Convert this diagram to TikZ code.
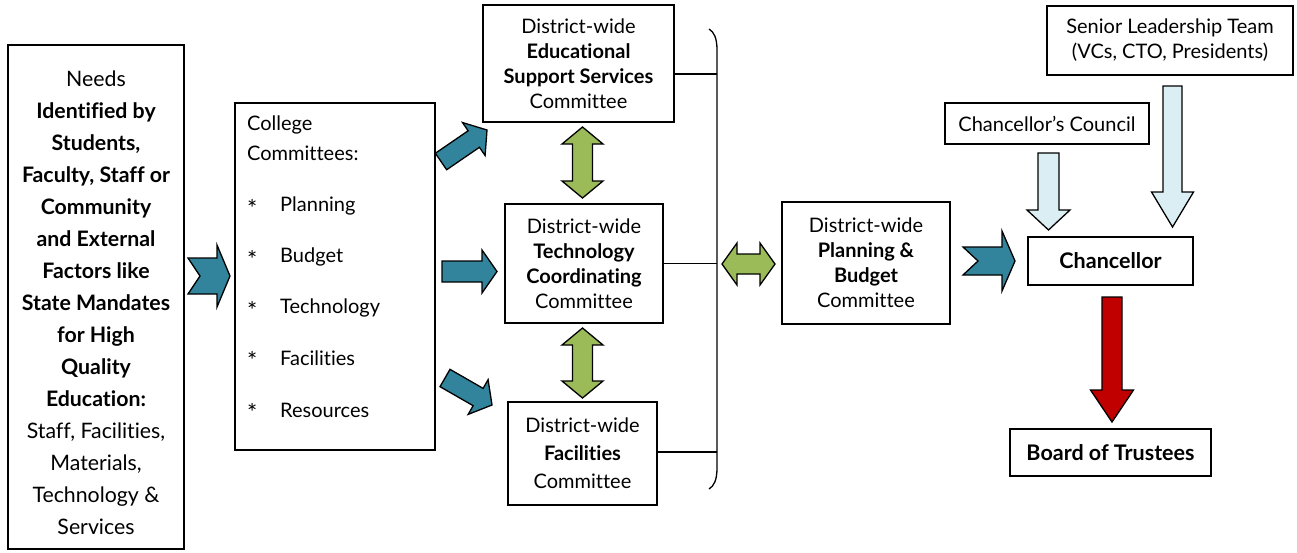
\documentclass[tikz,border=0pt]{standalone}
\usepackage{fontspec}
\setmainfont{Lato}[Ligatures={NoCommon}]
\usetikzlibrary{calc}
\definecolor{teal}{HTML}{31849B}
\definecolor{leaf}{HTML}{9BBB59}
\definecolor{pale}{HTML}{DAEEF3}
\definecolor{crim}{HTML}{C00000}
\newcommand\blkarrow[7]{%
  \coordinate (bk-h) at ($(#3)!#6!(#2)$);
  \coordinate (bk-n) at ($(#2)!#7!(#3)$);
  \draw[#1] ($(#2)!#4!90:(#3)$) -- ($(bk-h)!#4!90:(#3)$) -- ($(bk-h)!#5!90:(#3)$) -- (#3)
    -- ($(bk-h)!#5!-90:(#3)$) -- ($(bk-h)!#4!-90:(#3)$) -- ($(#2)!#4!-90:(#3)$) -- (bk-n) -- cycle;}
\newcommand\dblarrow[6]{%
  \coordinate (db-a) at ($(#2)!#6!(#3)$);
  \coordinate (db-b) at ($(#3)!#6!(#2)$);
  \draw[#1] (#2) -- ($(db-a)!#5!90:(#3)$) -- ($(db-a)!#4!90:(#3)$) -- ($(db-b)!#4!90:(#3)$)
    -- ($(db-b)!#5!90:(#3)$) -- (#3) -- ($(db-b)!#5!-90:(#3)$) -- ($(db-b)!#4!-90:(#3)$)
    -- ($(db-a)!#4!-90:(#3)$) -- ($(db-a)!#5!-90:(#3)$) -- cycle;}
\begin{document}
\begin{tikzpicture}[x=1pt,y=-1pt,
  box/.style={draw, line width=1.5pt, inner sep=0pt, align=center,
    font=\fontsize{20}{25}\selectfont},
  bigbox/.style={box, font=\fontsize{21.5}{25}\selectfont\bfseries},
  txt/.style={inner sep=0pt, font=\fontsize{20}{25}\selectfont},
  bigtxt/.style={inner sep=0pt, align=center, font=\fontsize{21.3}{32}\selectfont},
  tealarr/.style={fill=teal, draw=black, line width=1.3pt, line join=miter},
  greenarr/.style={fill=leaf, draw=black, line width=1.3pt, line join=miter},
  palearr/.style={fill=pale, draw=black, line width=1.3pt, line join=miter},
  redarr/.style={fill=crim, draw=black, line width=1.3pt, line join=miter},
  link/.style={line width=1.3pt}]
\useasboundingbox[fill=white] (0,0) rectangle (1297,552);

% boxes
\node[box, minimum width=176pt, minimum height=504pt] (needs) at (96,297) {};
\node[bigtxt] (needstext) at (96,303) {Needs\\ \textbf{Identified by}\\ \textbf{Students,}\\
  \textbf{Faculty, Staff or}\\ \textbf{Community}\\ \textbf{and External}\\ \textbf{Factors like}\\
  \textbf{State Mandates}\\ \textbf{for High}\\ \textbf{Quality}\\ \textbf{Education:}\\
  Staff, Facilities,\\ Materials,\\ Technology \&\\ Services};

\node[box, minimum width=200pt, minimum height=347pt] (college) at (335,276.5) {};
\node[txt, anchor=west] (c1) at (247,125) {College};
\node[txt, anchor=west] (c2) at (247,153) {Committees:};
\foreach \y/\w [count=\i] in {206/Planning,257/Budget,308/Technology,358/Facilities,410/Resources}{
  \node[txt, anchor=west, font=\fontsize{24}{25}\selectfont] (s\i) at (247,\y+2) {*};
  \node[txt, anchor=west] (t\i) at (280,\y) {\w};
}

\node[box, minimum width=191pt, minimum height=117pt] (ed) at (578.5,63.5)
  {District-wide\\ \textbf{Educational}\\ \textbf{Support Services}\\ Committee};
\node[box, minimum width=158pt, minimum height=119pt] (tech) at (584,263.5)
  {District-wide\\ \textbf{Technology}\\ \textbf{Coordinating}\\ Committee};
\node[box, minimum width=149pt, minimum height=103pt] (fac) at (582.5,453.5)
  {District-wide\\[3pt] \textbf{Facilities}\\[3pt] Committee};
\node[box, minimum width=168pt, minimum height=122pt] (plan) at (866,263)
  {District-wide\\ \textbf{Planning \&}\\ \textbf{Budget}\\ Committee};
\node[bigbox, minimum width=165pt, minimum height=48pt] (chan) at (1110.5,261) {Chancellor};
\node[box, minimum width=204pt, minimum height=41pt] (council) at (1047,123.5) {Chancellor’s Council};
\node[box, minimum width=246pt, minimum height=69pt] (senior) at (1170,40.5)
  {Senior Leadership Team\\ (VCs, CTO, Presidents)};
\node[bigbox, minimum width=201pt, minimum height=47pt] (board) at (1110.5,452.5) {Board of Trustees};

% bracket
\coordinate (brk) at (717,0);
\draw[link] (709,29) .. controls (714,32) and (717,38) .. (717,50) -- (717,468)
  .. controls (717,480) and (714,486) .. (709,489);
\draw[link] ([yshift=-10.5pt]ed.east) -- ([yshift=-10.5pt]ed.east -| brk);
\draw[link] (tech.east) -- (tech.east -| brk);
\draw[link] ([yshift=1.5pt]fac.east) -- ([yshift=1.5pt]fac.east -| brk);

% arrow end points
\coordinate (a1t) at (188,276);   \coordinate (a1h) at (230,276);
\coordinate (a2t) at (441,161.5); \coordinate (a2h) at (487,130);
\coordinate (a3t) at (442,271.5); \coordinate (a3h) at (497,271.5);
\coordinate (a4t) at (445,378);   \coordinate (a4h) at (492,405);
\coordinate (g1a) at (582.5,127); \coordinate (g1b) at (582.5,198);
\coordinate (g2a) at (582.5,328); \coordinate (g2b) at (582.5,398);
\coordinate (g3a) at (722,264);   \coordinate (g3b) at (775,264);
\coordinate (a5t) at (963,261);   \coordinate (a5h) at (1015,261);
\coordinate (p1t) at (1048.5,153); \coordinate (p1h) at (1048.5,230);
\coordinate (p2t) at (1172.5,86);  \coordinate (p2h) at (1172.5,227);
\coordinate (r1t) at (1112,297);   \coordinate (r1h) at (1112,422);

\blkarrow{tealarr}{a1t}{a1h}{18pt}{31pt}{13pt}{12pt}
\blkarrow{tealarr}{a2t}{a2h}{10pt}{20pt}{16pt}{0pt}
\blkarrow{tealarr}{a3t}{a3h}{10.5pt}{21.5pt}{15pt}{0pt}
\blkarrow{tealarr}{a4t}{a4h}{10pt}{20pt}{16pt}{0pt}
\blkarrow{tealarr}{a5t}{a5h}{14pt}{30pt}{13pt}{15pt}
\dblarrow{greenarr}{g1a}{g1b}{10pt}{20.5pt}{17pt}
\dblarrow{greenarr}{g2a}{g2b}{10pt}{20.5pt}{17pt}
\dblarrow{greenarr}{g3a}{g3b}{10pt}{21pt}{15pt}
\blkarrow{palearr}{p1t}{p1h}{10.5pt}{21.5pt}{20pt}{0pt}
\blkarrow{palearr}{p2t}{p2h}{9.5pt}{21pt}{35pt}{0pt}
\blkarrow{redarr}{r1t}{r1h}{10pt}{21.5pt}{32pt}{0pt}
\end{tikzpicture}
\end{document}
